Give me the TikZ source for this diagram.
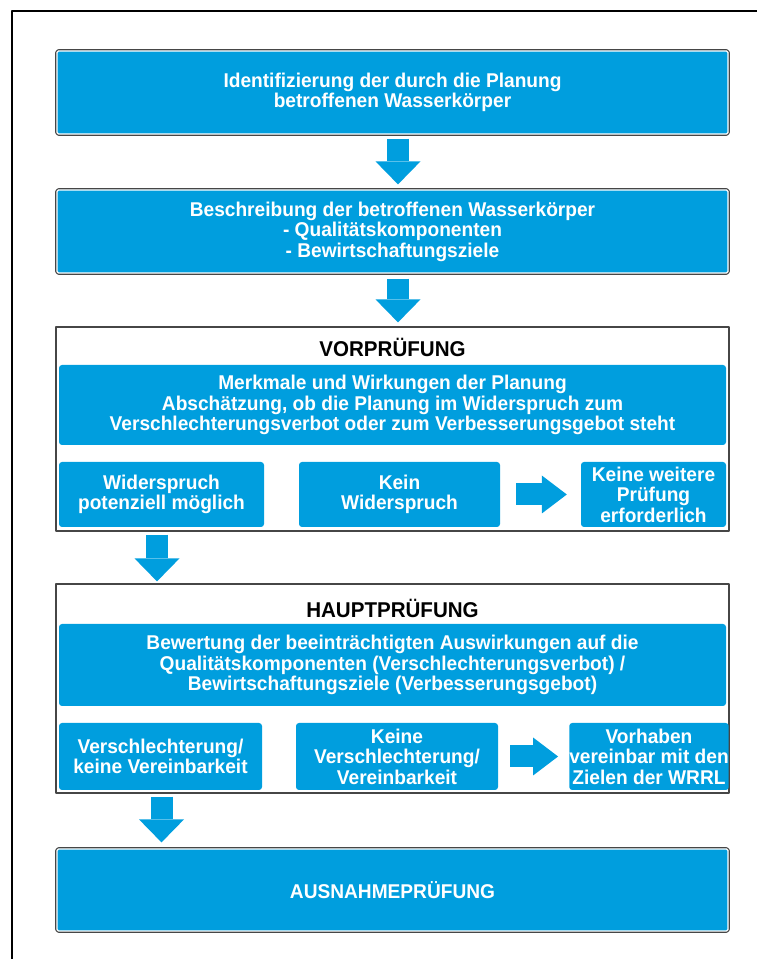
\documentclass[tikz,border=0pt]{standalone}
\usepackage{fontspec}
\setmainfont{Liberation Sans}[FakeStretch=0.96]
\usetikzlibrary{arrows.meta}
\definecolor{wrblue}{RGB}{0,158,222}
\definecolor{framegray}{RGB}{70,70,70}
\begin{document}
\begin{tikzpicture}[>=latex,line join=bevel,
  every node/.style={inner sep=0pt,align=center,font=\bfseries\fontsize{20}{20.5}\selectfont},
  mainbox/.style={fill=wrblue,text=white,draw=white,line width=1.2bp,rounded corners=1.5bp,
    preaction={draw=framegray,line width=3.6bp}},
  innerbox/.style={fill=wrblue,text=white,rounded corners=3bp},
  stagebox/.style={draw=framegray,line width=1.2bp},
  stagetitle/.style={text=black,font=\bfseries\fontsize{21.5}{22}\selectfont},
  blockarrow/.style={draw=wrblue,line width=22bp,-{Triangle[width=45bp,length=23bp,line width=0pt]}},
  sidearrow/.style={draw=wrblue,line width=22bp,-{Triangle[width=38bp,length=25bp,line width=0pt]}},
]
\useasboundingbox (0bp,0bp) rectangle (757bp,959bp);
\draw [black,line width=1.5bp] (12bp,-20bp) -- (12bp,948bp) -- (780bp,948bp);
%%
\node (vorframe) at (392.5bp,530bp) [stagebox,minimum width=673bp,minimum height=204bp] {};
  \node (hauptframe) at (392.5bp,270.5bp) [stagebox,minimum width=673bp,minimum height=209bp] {};
  \node (ident) at (392.5bp,866.5bp) [mainbox,minimum width=671bp,minimum height=83bp] {Identifizierung der durch die Planung\\betroffenen Wasserkörper};
  \node (beschr) at (392.5bp,727.5bp) [mainbox,minimum width=671bp,minimum height=83bp] {Beschreibung der betroffenen Wasserkörper\\- Qualitätskomponenten\\- Bewirtschaftungsziele};
  \node (vortitle) at (392.5bp,612bp) [stagetitle] {VORPRÜFUNG};
  \node (merkmale) at (392.5bp,554bp) [innerbox,minimum width=667bp,minimum height=80bp] {Merkmale und Wirkungen der Planung\\Abschätzung, ob die Planung im Widerspruch zum\\Verschlechterungsverbot oder zum Verbesserungsgebot steht};
  \node (vwider) at (161.5bp,464.5bp) [innerbox,minimum width=205bp,minimum height=65bp] {Widerspruch\\potenziell möglich};
  \node (vkein) at (399.5bp,464.5bp) [innerbox,minimum width=201bp,minimum height=65bp] {Kein\\Widerspruch};
  \node (vkeine) at (653.5bp,464.5bp) [innerbox,minimum width=145bp,minimum height=65bp] {Keine weitere\\Prüfung\\erforderlich};
  \node (haupttitle) at (392.5bp,351bp) [stagetitle] {HAUPTPRÜFUNG};
  \node (bewertung) at (392.5bp,294bp) [innerbox,minimum width=667bp,minimum height=82bp] {Bewertung der beeinträchtigten Auswirkungen auf die\\Qualitätskomponenten (Verschlechterungsverbot) /\\Bewirtschaftungsziele (Verbesserungsgebot)};
  \node (hverschl) at (160.5bp,202.5bp) [innerbox,minimum width=203bp,minimum height=67bp] {Verschlechterung/\\keine Vereinbarkeit};
  \node (hkeine) at (397bp,202.5bp) [innerbox,minimum width=202bp,minimum height=67bp] {Keine\\Verschlechterung/\\Vereinbarkeit};
  \node (hvorhaben) at (649bp,202.5bp) [innerbox,minimum width=154bp,minimum height=67bp] {Vorhaben\\vereinbar mit den\\Zielen der WRRL};
  \node (ausnahme) at (392.5bp,69bp) [mainbox,minimum width=671bp,minimum height=82bp] {AUSNAHMEPRÜFUNG};
  \draw [blockarrow] ([xshift=5.5bp,yshift=-4bp]ident.south) -- ([xshift=5.5bp,yshift=5bp]beschr.north);
  \draw [blockarrow] ([xshift=5.5bp,yshift=-5bp]beschr.south) -- ([xshift=5.5bp,yshift=4bp]vorframe.north);
  \draw [blockarrow] ([xshift=-4.5bp,yshift=-3bp]vwider.south |- vorframe.south) -- ([xshift=-4.5bp,yshift=2bp]vwider.south |- hauptframe.north);
  \draw [blockarrow] ([xshift=1bp,yshift=-3bp]hverschl.south |- hauptframe.south) -- ([xshift=1bp,yshift=6bp]hverschl.south |- ausnahme.north);
  \draw [sidearrow] ([xshift=16bp]vkein.east) -- ([xshift=-14bp]vkeine.west);
  \draw [sidearrow] ([xshift=12bp]hkeine.east) -- ([xshift=-11bp]hvorhaben.west);
%
\end{tikzpicture}
\end{document}
